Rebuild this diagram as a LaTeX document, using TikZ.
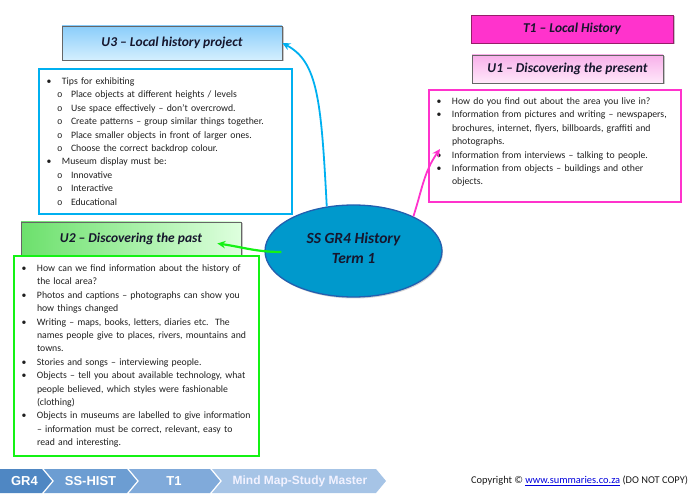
\documentclass[tikz,border=0pt]{standalone}
\usepackage{fontspec}
\setmainfont{Carlito}
\newfontfamily\monofont{Liberation Mono}
\newfontfamily\crumbfont{Liberation Sans}
\usetikzlibrary{arrows.meta, positioning, shapes.geometric, shadows, calc}

\definecolor{hubblue}{RGB}{0,153,204}
\definecolor{hubedge}{RGB}{35,95,175}
\definecolor{skyline}{RGB}{0,176,240}
\definecolor{pinkline}{RGB}{255,51,204}
\definecolor{greenline}{RGB}{20,242,20}
\definecolor{u3top}{RGB}{138,205,250}
\definecolor{u3bot}{RGB}{212,239,254}
\definecolor{u1top}{RGB}{248,176,234}
\definecolor{u1bot}{RGB}{255,232,250}
\definecolor{u2left}{RGB}{108,224,108}
\definecolor{u2right}{RGB}{222,255,222}
\definecolor{t1pink}{RGB}{255,51,204}
\definecolor{t1edge}{RGB}{150,30,105}
\definecolor{crumbA}{RGB}{79,135,195}
\definecolor{crumbB}{RGB}{108,157,210}
\definecolor{crumbC}{RGB}{128,170,218}
\definecolor{crumbD}{RGB}{166,196,230}
\definecolor{linkblue}{RGB}{0,0,220}
\definecolor{inkdark}{RGB}{22,22,45}

\newcommand{\hpoint}[1]{\makebox[15.5pt][l]{\textbullet}\mbox{#1}}
\newcommand{\hsubpoint}[1]{\hspace*{10.5pt}\makebox[14pt][l]{\monofont\fontsize{9}{9}\selectfont o}\mbox{#1}}
\newcommand{\hcont}[1]{\hspace*{15.5pt}\mbox{#1}}

\begin{document}
\begin{tikzpicture}[x=1pt, y=1pt,
  titlebox/.style={draw=black!60, line width=0.7pt, minimum height=28pt, inner sep=0pt,
    text=inkdark, font=\fontsize{13.5}{15}\selectfont\bfseries\itshape,
    drop shadow={shadow xshift=1.5pt, shadow yshift=-1.5pt, opacity=0.45}},
  listbox/.style={draw=#1, line width=2pt, anchor=north west, align=left,
    inner xsep=7.5pt, inner ysep=0pt, text=black!88, font=\fontsize{9.75}{13.4}\selectfont},
  link/.style={line width=1.8pt, -{Stealth[length=8pt, width=7.5pt]}},
  crumb/.style={text=white, inner sep=0pt, font=\crumbfont\bfseries\fontsize{13}{15}\selectfont}
]
\useasboundingbox (0,0) rectangle (699,496);

% unit headings
\node[titlebox, minimum width=220pt, minimum height=34pt, top color=u3top, bottom color=u3bot] (u3t) at (172,453)
     {U3 -- Local history project};
\node[titlebox, minimum width=202pt, fill=t1pink, draw=t1edge] (t1) at (572,467)
     {T1 -- Local History};
\node[titlebox, minimum width=191pt, top color=u1top, bottom color=u1bot] (u1t) at (567.5,427)
     {U1 -- Discovering the present};
\node[titlebox, minimum width=220pt, minimum height=33pt, left color=u2left, right color=u2right] (u2t) at (131,257.5)
     {U2 -- Discovering the past};

% unit contents
\node[listbox=skyline, text width=238pt, minimum height=145pt] (u3c) at (38,428) {%
  \hpoint{Tips for exhibiting}\\
  \hsubpoint{Place objects at different heights / levels}\\
  \hsubpoint{Use space effectively -- don’t overcrowd.}\\
  \hsubpoint{Create patterns -- group similar things together.}\\
  \hsubpoint{Place smaller objects in front of larger ones.}\\
  \hsubpoint{Choose the correct backdrop colour.}\\
  \hpoint{Museum display must be:}\\
  \hsubpoint{Innovative}\\
  \hsubpoint{Interactive}\\
  \hsubpoint{Educational}};

\node[listbox=pinkline, text width=237pt, minimum height=112pt] (u1c) at (428,407) {%
  \hpoint{How do you find out about the area you live in?}\\
  \hpoint{Information from pictures and writing -- newspapers,}\\
  \hcont{brochures, internet, flyers, billboards, graffiti and}\\
  \hcont{photographs.}\\
  \hpoint{Information from interviews -- talking to people.}\\
  \hpoint{Information from objects -- buildings and other}\\
  \hcont{objects.}\rule[-9.5pt]{0pt}{9.5pt}};

\node[listbox=greenline, text width=230pt, minimum height=200pt] (u2c) at (13,241) {%
  \hpoint{How can we find information about the history of}\\
  \hcont{the local area?}\\
  \hpoint{Photos and captions -- photographs can show you}\\
  \hcont{how things changed}\\
  \hpoint{Writing -- maps, books, letters, diaries etc.\ \ The}\\
  \hcont{names people give to places, rivers, mountains and}\\
  \hcont{towns.}\\
  \hpoint{Stories and songs -- interviewing people.}\\
  \hpoint{Objects -- tell you about available technology, what}\\
  \hcont{people believed, which styles were fashionable}\\
  \hcont{(clothing)}\\
  \hpoint{Objects in museums are labelled to give information}\\
  \hcont{-- information must be correct, relevant, easy to}\\
  \hcont{read and interesting.}};

% centre topic
\node[ellipse, draw=hubedge, line width=1.3pt, fill=hubblue, minimum width=177pt, minimum height=92pt, inner sep=0pt,
      align=center, text=inkdark, font=\fontsize{15.5}{20}\selectfont\bfseries\itshape,
      drop shadow={shadow xshift=1pt, shadow yshift=-1.5pt, opacity=0.35}] (ell) at (353.5,245)
     {SS GR4 History\\Term 1\rule[-6pt]{0pt}{6pt}};

\coordinate (tipU1) at ($(u1c.west)+(12,-3)$);
\coordinate (hubleft) at ($(ell.west)+(17,-1)$);
\coordinate (tipU2) at ($(u2t.east)+(-24,-5)$);

\draw[link, skyline] (ell.121) .. controls +(93:107pt) and +(-28:40pt) .. (u3t.east);
\draw[link, pinkline] (ell.30) to[out=72, in=235] (tipU1);
\draw[link, greenline, line width=2.2pt] (hubleft) to[out=180, in=-8] (tipU2);

% footer
\foreach \xa/\xb/\col in {-12/42/crumbA, 44/127/crumbB, 129/210/crumbC, 212/376/crumbD}
  \fill[\col] (\xa,27) -- (\xb,27) -- (\xb+10,15) -- (\xb,3) -- (\xa,3) -- (\xa+10,15) -- cycle;
\node[crumb] (gr) at (24.5,15) {GR4};
\node[crumb] (subj) at (90.5,15) {SS-HIST};
\node[crumb] (term) at (174,15) {T1};
\node[crumb, font=\crumbfont\bfseries\fontsize{12}{14}\selectfont, text=white!95!blue] (mm) at (300,15) {Mind Map-Study Master};
\node[anchor=west, inner sep=0pt, text=black!90, font=\fontsize{10.4}{12}\selectfont] (copy) at (471,15)
     {Copyright © \textcolor{linkblue}{\underline{www.summaries.co.za}} (DO NOT COPY)};
\end{tikzpicture}
\end{document}
